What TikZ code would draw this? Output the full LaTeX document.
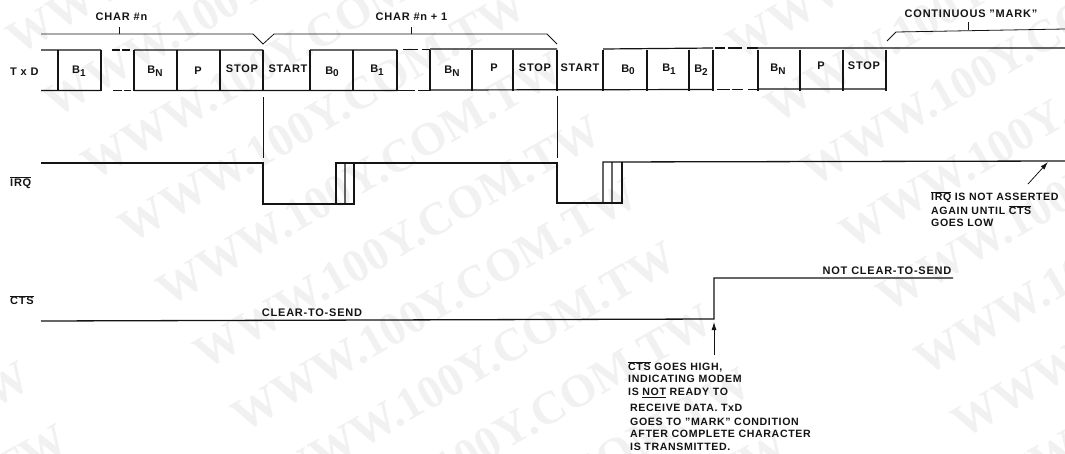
\documentclass[tikz,border=0pt]{standalone}
\usepackage{fontspec}
\setmainfont{Liberation Sans}
\newfontfamily\wmfont{Liberation Serif}
\usetikzlibrary{arrows.meta}
\definecolor{ink}{HTML}{141414}
\definecolor{wmgray}{HTML}{F1F1F1}
\tikzset{
  wave/.style={draw=ink,line width=1.3pt,line join=miter},
  rail/.style={draw=ink,line width=1.2pt},
  thinline/.style={draw=ink,line width=0.8pt},
  lbl/.style={font=\bfseries\fontsize{11}{13}\selectfont\addfontfeature{LetterSpace=7},text=ink,inner sep=0pt,anchor=center},
  note/.style={font=\bfseries\fontsize{10.6}{13}\selectfont\addfontfeature{LetterSpace=6},text=ink,inner sep=0pt,anchor=west},
  pointer/.style={draw=ink,line width=0.8pt,-{Latex[length=8pt,width=5pt]}},
  wmtext/.style={font=\wmfont\bfseries\fontsize{46.5}{50}\selectfont,text=wmgray,rotate=30,inner sep=0pt}
}
\newcommand{\ol}[1]{$\overline{\mbox{#1}}$}
\newcommand{\bit}[1]{B\raisebox{-2.5pt}{\fontsize{10}{10}\selectfont #1}}
\begin{document}
\begin{tikzpicture}[x=1pt,y=-1pt]
\useasboundingbox (0,0) rectangle (1065,453);
% watermark
\begin{scope}
\clip (0,0) rectangle (1065,453);
\foreach \a in {-2,...,2}
  \foreach \b in {-8,...,8}
    \node[wmtext] (w\a\b) at ({435+\a*533+\b*37.5},{305-\a*309+\b*63}) {WWW.100Y.COM.TW};
\end{scope}
% TxD rails
\draw[rail] (41,50)--(101,50) (134,50)--(263,50) (310,50)--(397,50) (430,49)--(557,49) (603,49)--(713,48) (758,48)--(1065,48);
\draw[rail] (41,90.5)--(101,90.5) (134,90.5)--(397,90.5) (430,90)--(713,89.5) (758,89)--(886,89);
% dashed gaps
\draw[rail] (112,50)--(120,50) (122,50)--(130,50) (113,90.5)--(122,90.5) (124,90.5)--(131,90.5);
\draw[rail] (403,49.5)--(418,49.5) (422,49.5)--(430,49.5) (397,90.5)--(415,90.5) (418,90.5)--(430,90.5);
\draw[rail] (715,48)--(725,48) (728,48)--(742,48) (747,48)--(758,48) (717,89.5)--(730,89.5) (732,89.5)--(743,89.5) (748,89.5)--(758,89.5);
% TxD bit edges
\foreach \ex in {58,101,134,177,220,263,310,353,397,430,472,513,557,603,647,689,713,758,800,843,886}
  \draw[wave] (\ex,49.5)--(\ex,90.5);
% bit labels
\foreach \bx/\by/\bt in {
 79/71/{\bit{1}},155/71/{\bit{N}},198/71/P,242/69/STOP,288/69/START,332/72/{\bit{0}},
 377/70/{\bit{1}},452/71/{\bit{N}},494/68/P,535/68/STOP,580/68/START,628/70/{\bit{0}},
 669/69/{\bit{1}},701/70/{\bit{2}},778/69/{\bit{N}},821/66/P,864/66/STOP}
  \node[lbl] (bit\bx) at (\bx,\by) {\bt};
% signal names
\node[lbl,anchor=west] (txd) at (10,72) {T x D};
\node[lbl,anchor=west] (irq) at (10,183) {\ol{IRQ}};
\node[lbl,anchor=west] (cts) at (10,300) {\ol{CTS}};
% braces
\node[lbl] (c1) at (121.5,17) {CHAR \#n};
\node[lbl] (c2) at (411.5,17) {CHAR \#n + 1};
\node[lbl] (c3) at (971,14) {CONTINUOUS "MARK"};
\coordinate (c1t) at (119,27);
\coordinate (c2t) at (411,27);
\coordinate (c3t) at (968,22);
\draw[thinline] (41,34)--(253,34)--(263,44)--(274,34)--(547,34)--(557,44);
\draw[thinline] (887,41)--(896,32)--(1065,29);
\draw[thinline] (c1t)--(119,34) (c2t)--(411,34) (c3t)--(968,30);
% drop lines
\draw[thinline] (263,97)--(263,158) (557,96)--(557,158);
% IRQ
\draw[wave] (41,163)--(263,163)--(263,204)--(354,204)--(354,163);
\draw[wave] (336,204)--(336,163)--(557,163)--(557,203)--(622,203)--(622,162);
\draw[wave] (345,163)--(345,204) (603,203)--(603,162)--(1065,161) (612,162)--(612,203);
% CTS
\draw[wave] (41,321)--(714,319)--(714,278)--(953,278);
\node[lbl] (cs) at (312,313) {CLEAR-TO-SEND};
\node[lbl] (ncs) at (887,271) {NOT CLEAR-TO-SEND};
% notes
\coordinate (a1s) at (1028,184); \coordinate (a1e) at (1048,162);
\draw[pointer] (a1s)--(a1e);
\coordinate (a2s) at (714,355); \coordinate (a2e) at (714,322);
\draw[pointer] (a2s)--(a2e);
\node[note] (n1) at (931,197) {\ol{IRQ} IS NOT ASSERTED};
\node[note] (n2) at (931,210) {AGAIN UNTIL \ol{CTS}};
\node[note] (n3) at (931,223) {GOES LOW};
\node[note] (m1) at (628,367) {\ol{CTS} GOES HIGH,};
\node[note] (m2) at (628,379) {INDICATING MODEM};
\node[note] (m3) at (628,393) {IS \underline{NOT} READY TO};
\node[note] (m4) at (630,408) {RECEIVE DATA. TxD};
\node[note] (m5) at (630,422) {GOES TO "MARK" CONDITION};
\node[note] (m6) at (630,434) {AFTER COMPLETE CHARACTER};
\node[note] (m7) at (630,447) {IS TRANSMITTED.};
\end{tikzpicture}
\end{document}
